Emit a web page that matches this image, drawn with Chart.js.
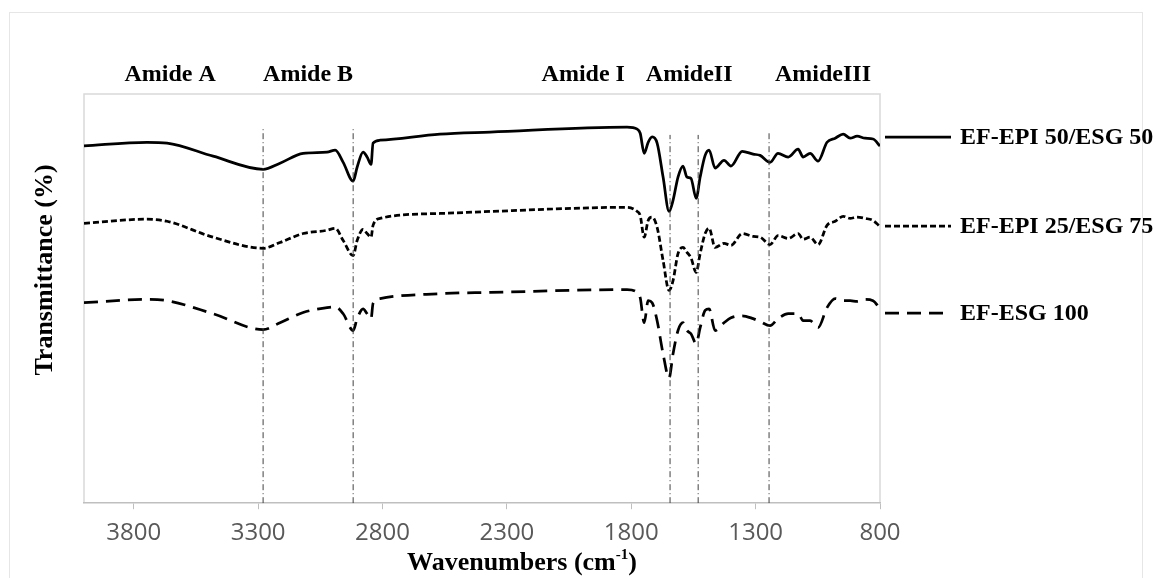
<!DOCTYPE html>
<html>
<head>
<meta charset="utf-8">
<script src="https://cdn.jsdelivr.net/npm/chart.js@4.4.1/dist/chart.umd.min.js"></script>
<style>
  html, body { margin: 0; padding: 0; background: #fff; }
  canvas { display: block; }
</style>
</head>
<body>
<canvas id="ftir" width="1156" height="578"></canvas>
<script>
// FTIR spectra, wavenumber axis runs right to left
const wavenumbers = [4000, 3747, 3666, 3481, 3280, 3212, 3119, 3023, 2990, 2958, 2918, 2902, 2878, 2862, 2846, 2838, 2810, 2569, 2367,
    1817, 1776, 1764, 1748, 1732, 1716, 1696, 1672, 1648, 1632, 1612, 1592, 1576, 1560, 1539, 1523, 1503, 1487, 1463, 1427, 1399,
    1354, 1310, 1282, 1242, 1210, 1169, 1129, 1109, 1081, 1049, 1013, 980, 948, 920, 892, 860, 828, 800];

const epi50esg50 = [87.3, 88.2, 88.0, 84.8, 81.6, 83.1, 85.5, 85.8, 86.3, 83.3, 78.7, 82.1, 85.8, 84.6, 82.8, 88.0, 88.7, 90.2, 90.7,
    91.9, 91.4, 90.4, 85.5, 88.2, 89.5, 88.0, 79.7, 71.3, 74.0, 79.7, 82.4, 79.7, 79.4, 74.5, 79.7, 85.0, 86.3, 81.9, 83.8, 82.4,
    86.0, 85.3, 85.0, 83.3, 85.5, 84.6, 86.5, 84.6, 85.5, 83.6, 88.2, 89.2, 90.2, 89.2, 89.7, 89.2, 89.0, 87.3];

const epi25esg75 = [68.4, 69.4, 68.9, 65.0, 62.3, 63.7, 65.9, 66.7, 67.2, 64.2, 60.5, 64.2, 66.9, 65.9, 65.0, 67.9, 69.6, 70.8, 71.3,
    72.3, 71.3, 70.3, 65.0, 69.1, 69.9, 67.4, 59.3, 52.0, 54.4, 61.0, 62.5, 61.3, 60.0, 56.4, 61.0, 65.9, 67.2, 62.5, 63.5, 63.0,
    65.9, 65.2, 65.0, 63.2, 65.4, 64.7, 65.9, 64.5, 65.0, 63.2, 67.9, 68.9, 70.1, 69.6, 69.9, 69.6, 69.1, 67.6];

const esg100 = [49.0, 49.8, 49.5, 46.3, 42.4, 44.1, 46.6, 47.8, 48.0, 46.3, 42.2, 45.1, 47.5, 46.3, 45.1, 48.8, 50.0, 51.2, 51.5,
    52.2, 51.5, 50.2, 44.1, 49.5, 49.0, 44.6, 36.5, 30.6, 36.5, 42.2, 44.1, 42.2, 41.4, 39.0, 42.9, 47.1, 47.5, 42.2, 44.1, 45.3,
    45.8, 45.1, 44.4, 43.4, 45.1, 46.3, 46.3, 44.6, 44.6, 42.9, 47.8, 50.0, 49.5, 49.5, 49.3, 49.8, 49.5, 47.5];

const seriesNames = ['EF-EPI 50/ESG 50', 'EF-EPI 25/ESG 75', 'EF-ESG 100'];
const xTicks = [3800, 3300, 2800, 2300, 1800, 1300, 800];

// band markers (vertical dash-dot lines) and the band names above the plot
const bandLines = [3280, 2918, 1644, 1531, 1246];
const bandLineTops = [91.9, 91.4, 90.0, 90.0, 90.4];
const bandNames = ['Amide A', 'Amide B', 'Amide I', 'AmideII', 'AmideIII'];
const bandNameAt = [3654, 3099, 1993, 1567, 1029];

const SERIF = '"Liberation Serif", "Times New Roman", serif';
const dashes = [[], [6, 3], [14, 8]];

function toPoints(ys) {
    return wavenumbers.map((w, i) => ({ x: w, y: ys[i] }));
}

const spectra = [epi50esg50, epi25esg75, esg100].map((ys, i) => ({
    label: seriesNames[i],
    data: toPoints(ys),
    borderColor: '#000',
    borderWidth: 2.75,
    borderDash: dashes[i],
    pointRadius: 0,
    cubicInterpolationMode: 'monotone',
    fill: false
}));

const markers = bandLines.map((w, i) => ({
    label: 'band ' + i,
    data: [{ x: w, y: 0 }, { x: w, y: bandLineTops[i] }],
    borderColor: '#404040',
    borderWidth: 1,
    borderDash: [6, 3, 1, 3],
    pointRadius: 0,
    fill: false
}));

const decor = {
    id: 'decor',
    beforeDraw(chart) {
        const { ctx, chartArea: a } = chart;
        ctx.save();
        ctx.fillStyle = '#fff';
        ctx.fillRect(0, 0, chart.width, chart.height);
        ctx.strokeStyle = '#e6e6e6';
        ctx.lineWidth = 1;
        ctx.strokeRect(9.5, 12.5, 1133, 580);
        ctx.strokeStyle = '#d9d9d9';
        ctx.lineWidth = 1.5;
        ctx.beginPath();
        ctx.moveTo(a.left, a.bottom);
        ctx.lineTo(a.left, a.top);
        ctx.lineTo(a.right, a.top);
        ctx.lineTo(a.right, a.bottom);
        ctx.stroke();
        ctx.restore();
    },
    afterDraw(chart) {
        const { ctx } = chart;
        const x = chart.scales.x;
        ctx.save();
        ctx.fillStyle = '#000';
        ctx.textBaseline = 'middle';

        // band names
        ctx.font = 'bold 24px ' + SERIF;
        ctx.textAlign = 'center';
        bandNames.forEach((name, i) => {
            ctx.fillText(name, x.getPixelForValue(bandNameAt[i]), 75);
        });

        // legend on the right
        const legendY = [137, 226, 313];
        ctx.textAlign = 'left';
        spectra.forEach((ds, i) => {
            ctx.beginPath();
            ctx.setLineDash(ds.borderDash);
            ctx.lineWidth = 2.75;
            ctx.strokeStyle = '#000';
            ctx.moveTo(885, legendY[i]);
            ctx.lineTo(951, legendY[i]);
            ctx.stroke();
            ctx.setLineDash([]);
            ctx.fillText(ds.label, 960, legendY[i] + 1);
        });

        // x title with superscript
        ctx.font = 'bold 26px ' + SERIF;
        const t1 = 'Wavenumbers (cm', sup = '-1', t2 = ')';
        const w1 = ctx.measureText(t1).width;
        ctx.font = 'bold 15px ' + SERIF;
        const ws = ctx.measureText(sup).width;
        ctx.font = 'bold 26px ' + SERIF;
        const w2 = ctx.measureText(t2).width;
        let sx = 522 - (w1 + ws + w2) / 2;
        ctx.fillText(t1, sx, 563);
        ctx.font = 'bold 15px ' + SERIF;
        ctx.fillText(sup, sx + w1, 555);
        ctx.font = 'bold 26px ' + SERIF;
        ctx.fillText(t2, sx + w1 + ws, 563);

        // y title
        ctx.translate(45, 270);
        ctx.rotate(-Math.PI / 2);
        ctx.textAlign = 'center';
        ctx.font = 'bold 26px ' + SERIF;
        ctx.fillText('Transmittance (%)', 0, 0);
        ctx.restore();
    }
};

new Chart(document.getElementById('ftir'), {
    type: 'line',
    data: { datasets: [...markers, ...spectra] },
    options: {
        responsive: false,
        animation: false,
        devicePixelRatio: 1,
        layout: { padding: { left: 84, top: 94, right: 276, bottom: 20 } },
        plugins: {
            legend: { display: false },
            tooltip: { enabled: false }
        },
        scales: {
            x: {
                type: 'linear',
                reverse: true,
                min: 800,
                max: 4000,
                afterBuildTicks: (scale) => { scale.ticks = xTicks.map(v => ({ value: v })); },
                grid: { drawOnChartArea: false, drawTicks: true, tickLength: 6, color: '#bfbfbf' },
                border: { display: true, color: '#bfbfbf', width: 1.5 },
                ticks: {
                    padding: 10,
                    maxRotation: 0,
                    autoSkip: false,
                    color: '#595959',
                    callback: (v) => String(v),
                    font: { family: '"Liberation Sans Narrow", "Open Sans", sans-serif', size: 24 }
                }
            },
            y: { display: false, min: 0, max: 100 }
        }
    },
    plugins: [decor]
});
</script>
</body>
</html>
